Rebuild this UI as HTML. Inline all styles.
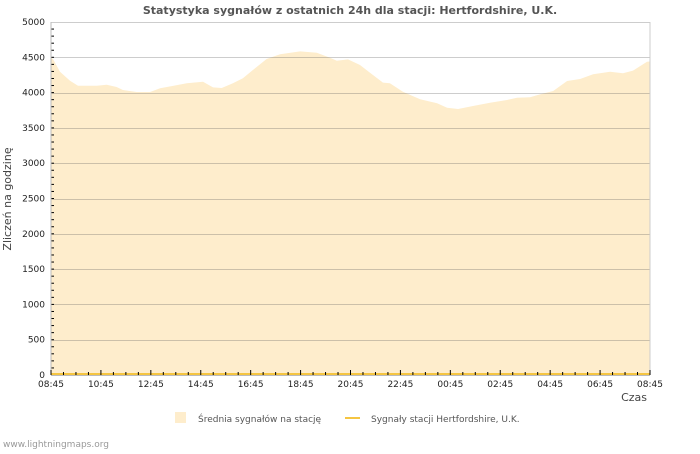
<!DOCTYPE html>
<html><head><meta charset="utf-8"><style>
body{margin:0;background:#fff;font-family:"DejaVu Sans","Liberation Sans",sans-serif}
svg text{font-family:"DejaVu Sans","Liberation Sans",sans-serif}
</style></head><body>
<svg id="chart" width="700" height="450" xmlns="http://www.w3.org/2000/svg">
<text x="350" y="14" text-anchor="middle" font-size="11" font-weight="bold" fill="#555">Statystyka sygnałów z ostatnich 24h dla stacji: Hertfordshire, U.K.</text>
<path id="area" fill="#feedcc"/>
<g id="grid"></g>
<line id="stationline" stroke="#f5c542" stroke-width="2"/>
<g id="axes"></g>
<text transform="translate(11,199) rotate(-90)" text-anchor="middle" font-size="11" fill="#444">Zliczeń na godzinę</text>
<text x="647" y="401" text-anchor="end" font-size="11" fill="#444">Czas</text>
<g>
<rect x="175" y="412" width="11" height="11" fill="#feedcc"/>
<text x="198" y="422" font-size="9" fill="#555">Średnia sygnałów na stację</text>
<line x1="345" y1="418" x2="360" y2="418" stroke="#f5c542" stroke-width="2"/>
<text x="371" y="422" font-size="9" fill="#555">Sygnały stacji Hertfordshire, U.K.</text>
</g>
<text x="3" y="447" font-size="9" fill="#999">www.lightningmaps.org</text>
</svg>
<script>
const hours=[0,0.09,0.36,0.76,1.08,1.83,2.23,2.63,2.88,3.43,3.97,4.37,4.89,5.44,6.09,6.49,6.84,7.29,7.69,8.09,8.64,9.18,9.98,10.65,11.18,11.45,11.9,12.38,12.78,13.3,13.58,14.1,14.79,15.47,15.87,16.31,16.91,17.59,18.27,18.67,19.19,19.59,20.12,20.68,21.2,21.72,22.4,22.92,23.32,23.88,24];
const avgValues=[4500,4470,4296,4169,4098,4098,4112,4080,4037,4009,4009,4061,4095,4132,4155,4074,4065,4132,4202,4320,4476,4542,4584,4565,4495,4452,4470,4391,4282,4141,4132,4013,3905,3848,3786,3768,3810,3857,3895,3928,3933,3975,4022,4164,4193,4259,4296,4273,4311,4438,4440];
const stationValues=[0,0];
const yTicks=[0,500,1000,1500,2000,2500,3000,3500,4000,4500,5000];
const xTickLabels=["08:45","10:45","12:45","14:45","16:45","18:45","20:45","22:45","00:45","02:45","04:45","06:45","08:45"];
const L=51,R=650,T=22,B=375;
const xs=h=>L+h/24*(R-L);
const ys=v=>B-v/5000*(B-T);
const NS="http://www.w3.org/2000/svg";
const grid=document.getElementById('grid'),axes=document.getElementById('axes');
function mk(tag,at,parent){const e=document.createElementNS(NS,tag);for(const k in at)e.setAttribute(k,at[k]);parent.appendChild(e);return e;}
yTicks.forEach(v=>{
  if(v>0){const g=mk('line',{x1:L,x2:R,y1:Math.round(ys(v))+0.5,y2:Math.round(ys(v))+0.5,stroke:'rgba(90,90,90,0.3)','stroke-width':1},grid);
  
  }
  const t=mk('text',{x:45,y:ys(v)+3,'text-anchor':'end','font-size':9,fill:'#222'},axes);
  
  
  t.textContent=v;
});
for(let v=100;v<5000;v+=100){mk('line',{x1:L,x2:L+3,y1:ys(v),y2:ys(v),stroke:'#000'},axes);}
let d='M'+xs(hours[0])+','+B;
hours.forEach((h,i)=>{d+=' L'+xs(h).toFixed(1)+','+ys(avgValues[i]).toFixed(1);});
d+=' L'+xs(hours[hours.length-1])+','+B+' Z';
document.getElementById('area').setAttribute('d',d);
const sl=document.getElementById('stationline');
sl.setAttribute('x1',xs(0));sl.setAttribute('x2',xs(24));
sl.setAttribute('y1',ys(stationValues[0])-1);sl.setAttribute('y2',ys(stationValues[1])-1);
mk('line',{x1:L,x2:L,y1:T,y2:B,stroke:'#bbb'},axes);
mk('line',{x1:R,x2:R,y1:T,y2:B,stroke:'#ccc'},axes);
mk('line',{x1:L,x2:R,y1:B+0.5,y2:B+0.5,stroke:'#bbb'},axes);
for(let i=0;i<=48;i++){const x=xs(i/2);mk('line',{x1:x,x2:x,y1:B,y2:B-(i%4===0?5:3),stroke:'#000'},axes);}
xTickLabels.forEach((s,i)=>{
  const t=mk('text',{x:xs(i*2),y:387,'text-anchor':'middle','font-size':9,fill:'#222'},axes);
  
  
  t.textContent=s;
});
</script>
</body></html>
